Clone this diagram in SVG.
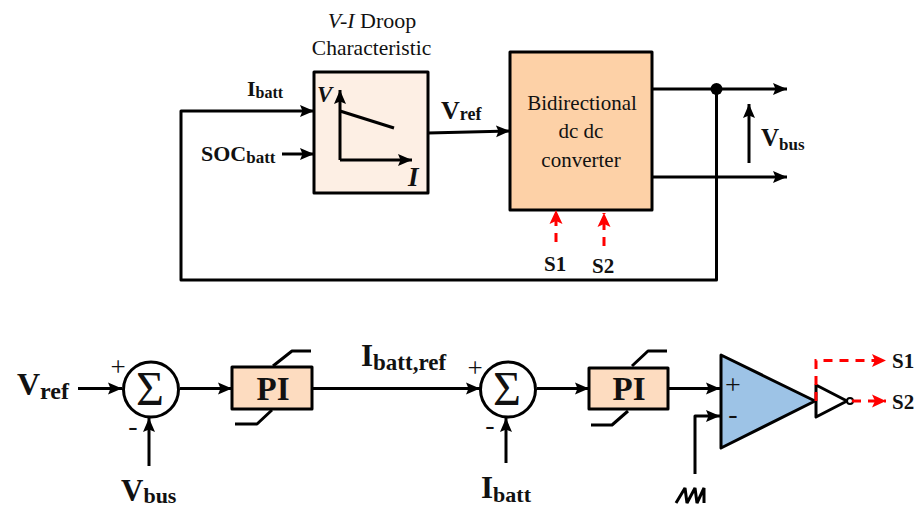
<svg xmlns="http://www.w3.org/2000/svg" width="919" height="509" viewBox="0 0 919 509">
<style>
.w{fill:none;stroke:#000;stroke-width:3;stroke-linejoin:round;stroke-linecap:butt}
.a{marker-end:url(#ah)}
.r{fill:none;stroke:#f00;stroke-width:3;stroke-dasharray:9 7}
.b{stroke:#000;stroke-width:3;stroke-linejoin:round}
.t{font-family:"Liberation Serif","Times New Roman",serif;fill:#111}
.tb{font-family:"Liberation Serif","Times New Roman",serif;font-weight:bold;fill:#111}
</style>
<defs>
<marker id="ah" markerUnits="userSpaceOnUse" markerWidth="15" markerHeight="14" refX="14" refY="7" orient="auto"><path d="M0 1L14 7L0 13L2.500 7Z" fill="#000"/></marker>
<marker id="rh" markerUnits="userSpaceOnUse" markerWidth="15" markerHeight="15" refX="14" refY="7.500" orient="auto"><path d="M0 1L14 7.500L0 14L3 7.500Z" fill="#f00"/></marker>
</defs>
<g id="connectors">
<path class="w a" d="M716.500 89V280H181V111H314"/>
<path class="w a" d="M282 154H314"/>
<path class="w a" d="M428 133L510 131"/>
<path class="w a" d="M652 89H787"/>
<path class="w a" d="M652 177H787"/>
<path class="w a" d="M749 163V104"/>
<path class="w a" d="M78 388.500H122"/>
<path class="w a" d="M180 388.500H232"/>
<path class="w a" d="M149 466V418"/>
<path class="w a" d="M312 388.500H480"/>
<path class="w a" d="M537 388.500H589"/>
<path class="w a" d="M506 463V418"/>
<path class="w a" d="M668 388.500H720"/>
<path class="w a" d="M695 474V416H720"/>
</g>
<g id="droop">
<rect class="b" x="314" y="72" width="114" height="121" fill="#fdefe4"/>
<path class="w a" d="M340 160V90"/>
<path class="w a" d="M340 160H412"/>
<path class="w" d="M340 111L394 128"/>
<text class="tb" font-style="italic" font-size="23" x="317" y="102">V</text>
<text class="tb" font-style="italic" font-size="27" x="408" y="186">I</text>
<text class="t" font-size="22" x="372" y="28" text-anchor="middle"><tspan font-style="italic">V-I</tspan> Droop</text>
<text class="t" font-size="21.500" x="371.500" y="55" text-anchor="middle">Characteristic</text>
</g>
<g id="converter">
<rect class="b" x="510" y="52" width="142" height="158" fill="#fdd1a7"/>
<text class="t" font-size="21" x="582" y="110" text-anchor="middle">Bidirectional</text>
<text class="t" font-size="21" x="581" y="138" text-anchor="middle">dc dc</text>
<text class="t" font-size="21" x="581" y="167" text-anchor="middle">converter</text>
</g>
<g id="junction"><circle cx="716.500" cy="89" r="6" fill="#000"/></g>
<g id="labels">
<text class="tb" font-size="22" x="247" y="96">I<tspan font-size="16" dy="2">batt</tspan></text>
<text class="tb" font-size="22" x="201" y="161">SOC<tspan font-size="17" dy="2">batt</tspan></text>
<text class="tb" font-size="26" x="441" y="119">V<tspan font-size="18" dy="1">ref</tspan></text>
<text class="tb" font-size="25" x="761" y="146">V<tspan font-size="17" dy="4">bus</tspan></text>
<text class="tb" font-size="32" x="17" y="395">V<tspan font-size="24" dy="4">ref</tspan></text>
<text class="tb" font-size="31" x="121" y="501">V<tspan font-size="22" dy="2">bus</tspan></text>
<text class="tb" font-size="31" x="361" y="366">I<tspan font-size="23" dy="4">batt,ref</tspan></text>
<text class="tb" font-size="31" x="481" y="498">I<tspan font-size="22" dy="4">batt</tspan></text>
<text class="tb" font-size="21" x="544" y="271">S1</text>
<text class="tb" font-size="21" x="592" y="273">S2</text>
<text class="tb" font-size="21" x="892" y="368">S1</text>
<text class="tb" font-size="21" x="892" y="409">S2</text>
</g>
<g id="sum1">
<circle class="b" cx="151" cy="389.500" r="27.500" fill="#fff"/>
<text class="t" font-size="48" x="150" y="405" text-anchor="middle">Σ</text>
<text class="t" font-size="27" x="118" y="376" text-anchor="middle">+</text>
<text class="t" font-size="28" x="133" y="435" text-anchor="middle">-</text>
</g>
<g id="pi1">
<path class="w" d="M273 366L292 351H311M235 424H257L272 410"/>
<rect class="b" x="232" y="367" width="80" height="42" fill="#fddcc0"/>
<text class="tb" font-size="33" x="273" y="400" text-anchor="middle">PI</text>
</g>
<g id="sum2">
<circle class="b" cx="508" cy="389.500" r="27.500" fill="#fff"/>
<text class="t" font-size="48" x="507" y="405" text-anchor="middle">Σ</text>
<text class="t" font-size="27" x="475" y="377" text-anchor="middle">+</text>
<text class="t" font-size="28" x="490" y="434" text-anchor="middle">-</text>
</g>
<g id="pi2">
<path class="w" d="M632 366L648 351H667M591 425H612L628 411"/>
<rect class="b" x="589" y="368" width="79" height="41" fill="#fddcc0"/>
<text class="tb" font-size="33" x="629" y="400" text-anchor="middle">PI</text>
</g>
<g id="comparator">
<path class="b" d="M721 355L815 401L721 448Z" fill="#9dc3e6"/>
<text class="t" font-size="28" x="733" y="394" text-anchor="middle">+</text>
<text class="t" font-size="28" x="733" y="423" text-anchor="middle">-</text>
</g>
<g id="not">
<path d="M816 385L847 401L816 417Z" fill="#fff" stroke="#000" stroke-width="3" stroke-linejoin="round"/>
<circle cx="850" cy="401" r="3" fill="#fff" stroke="#000" stroke-width="2"/>
</g>
<g id="ramp"><path fill="none" stroke="#000" stroke-width="3" stroke-linejoin="bevel" d="M676 503L685 488L687 503L695 488L697 503L704 488V503"/></g>
<g id="signals">
<path class="r" marker-end="url(#rh)" d="M556 242V210"/>
<path class="r" marker-end="url(#rh)" d="M604 246V213"/>
<path class="r" marker-end="url(#rh)" d="M816 401V360.500H886"/>
<path class="r" marker-end="url(#rh)" d="M852 401H886"/>
</g>
</svg>
